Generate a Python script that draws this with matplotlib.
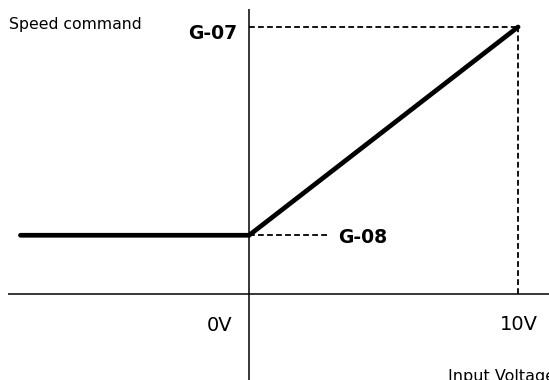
import matplotlib
matplotlib.use("Agg")
import matplotlib.pyplot as plt

# speed command curve (input volts -> speed %)
volts = [-8.5, 0.0, 10.0]
speed = [22.0, 22.0, 100.0]

g07_level = 100.0
g08_level = 22.0
g08_dash_end = 3.0
v_max = 10.0

x_ticks = [0.0, 10.0]
x_tick_labels = ["0V", "10V"]

# view window (volts / percent)
xlim = (-9.26, 11.15)
ylim = (-32.2, 110.1)

fig = plt.figure(figsize=(5.49, 3.80), dpi=100)
ax = fig.add_axes([0, 0, 1, 1])
ax.set_xlim(*xlim)
ax.set_ylim(*ylim)
ax.axis("off")

# axes cross
ax.plot([-8.96, xlim[1]], [0, 0], color="black", lw=1.1, solid_capstyle="butt")
ax.plot([0, 0], [ylim[0], 106.7], color="black", lw=1.1, solid_capstyle="butt")

# dashed guide lines
dash = dict(color="black", lw=1.3, dashes=(3.2, 1.8))
ax.plot([0, v_max], [g07_level, g07_level], **dash)
ax.plot([v_max, v_max], [0, g07_level], **dash)
ax.plot([0, g08_dash_end], [g08_level, g08_level], **dash)

# command curve
ax.plot(volts, speed, color="black", lw=3.4, solid_capstyle="round",
        solid_joinstyle="miter")

ax.text(-8.92, 101.1, "Speed command", fontsize=11.3, ha="left", va="center")
ax.text(-0.45, 97.6, "G-07", fontsize=13.5, fontweight="bold",
        ha="right", va="center")
ax.text(3.31, 21.0, "G-08", fontsize=13.5, fontweight="bold",
        ha="left", va="center")

ax.text(x_ticks[0] - 1.08, -11.8, x_tick_labels[0], fontsize=14,
        ha="center", va="center")
ax.text(x_ticks[1] + 0.04, -11.5, x_tick_labels[1], fontsize=14,
        ha="center", va="center")
ax.text(7.40, -31.0, "Input Voltage", fontsize=11.5, ha="left", va="center")

fig.savefig("out.png", dpi=100)
